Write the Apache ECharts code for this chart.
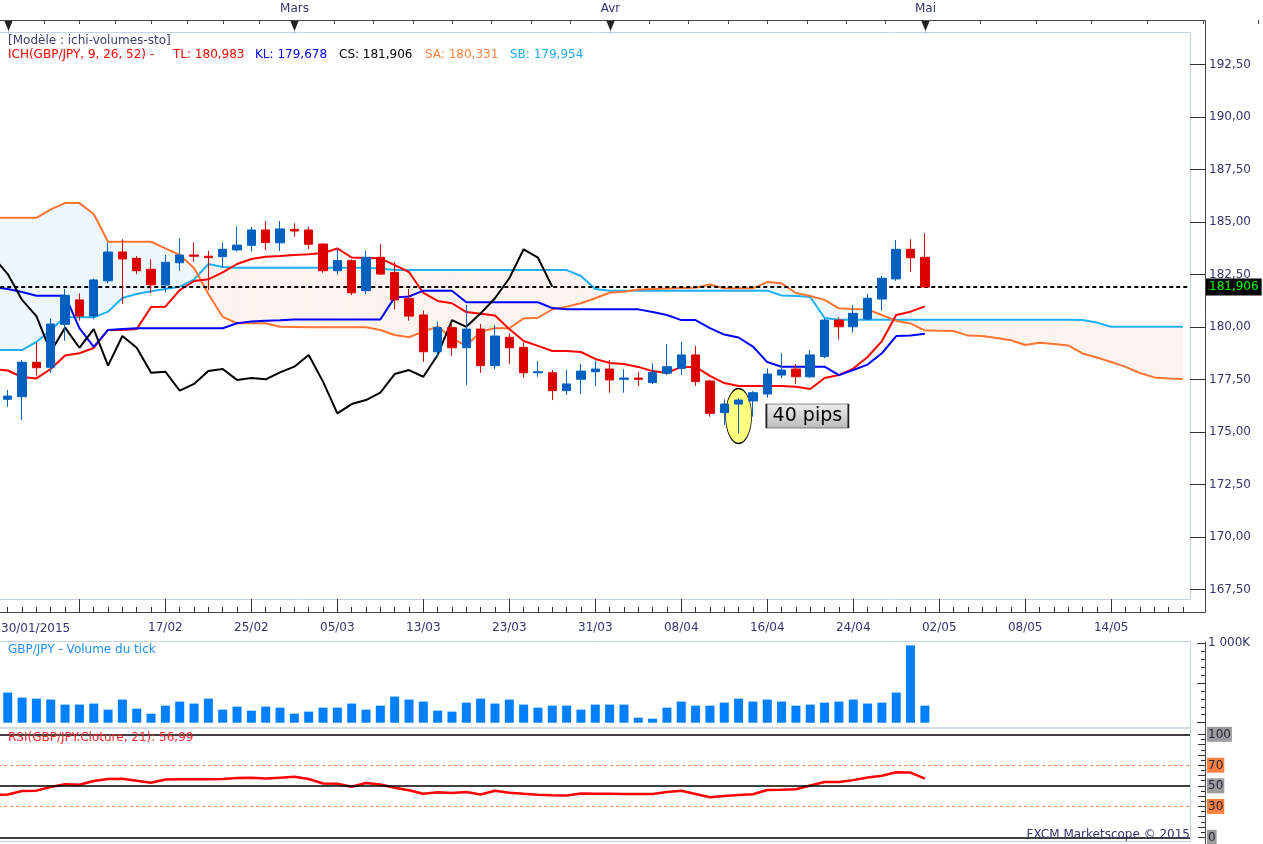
<!DOCTYPE html>
<html>
<head>
<meta charset="utf-8">
<title>GBP/JPY Ichimoku</title>
<script src="https://cdn.jsdelivr.net/npm/echarts/dist/echarts.min.js"></script>
<style>
html,body{margin:0;padding:0;background:#ffffff;overflow:hidden;}
#chart{width:1263px;height:844px;}
</style>
</head>
<body>
<div id="chart"></div>
<script>
// ---------- DATA ----------
const categories = ['30/01',
 '02/02','03/02','04/02','05/02','06/02','09/02','10/02','11/02','12/02','13/02',
 '16/02','17/02','18/02','19/02','20/02','23/02','24/02','25/02','26/02','27/02',
 '02/03','03/03','04/03','05/03','06/03','09/03','10/03','11/03','12/03','13/03',
 '16/03','17/03','18/03','19/03','20/03','23/03','24/03','25/03','26/03','27/03',
 '30/03','31/03','01/04','02/04','03/04','06/04','07/04','08/04','09/04','10/04',
 '13/04','14/04','15/04','16/04','17/04','20/04','21/04','22/04','23/04','24/04',
 '27/04','28/04','29/04','30/04','01/05',
 '02/05','03/05','04/05','05/05','06/05','07/05','08/05','09/05','10/05','11/05',
 '12/05','13/05','14/05','15/05','16/05','17/05','18/05','19/05'];

const opens = [176.90,176.56,176.68,178.32,178.08,180.13,181.29,180.52,182.20,183.57,
 183.27,182.75,182.00,183.06,183.43,183.37,183.35,183.67,183.89,184.62,
 184.01,184.65,184.62,183.95,182.68,183.16,181.73,183.32,182.59,181.35,
 180.57,178.82,179.97,179.01,179.90,178.16,179.51,179.03,177.82,177.82,
 176.97,177.51,177.87,178.00,177.51,177.57,177.35,177.80,178.03,178.67,
 177.43,175.92,176.33,176.48,176.81,177.71,178.00,177.63,178.59,180.33,
 180.01,180.38,181.33,182.29,183.70,183.32];
const closes = [176.60,176.71,178.32,178.06,180.14,181.51,180.52,182.24,183.57,183.24,
 182.68,182.01,183.08,183.43,183.37,183.30,183.70,183.90,184.62,184.02,
 184.67,184.57,183.94,182.68,183.16,181.63,183.32,182.52,181.29,180.52,
 178.82,179.97,179.01,179.90,178.16,179.57,179.01,177.82,177.87,176.97,
 177.29,177.90,178.00,177.48,177.57,177.51,177.84,178.11,178.67,177.40,
 175.89,176.33,176.52,176.87,177.76,177.95,177.63,178.67,180.33,180.01,
 180.65,181.37,182.32,183.70,183.30,181.906];
const lows = [176.30,176.20,175.57,177.68,177.82,179.35,180.30,180.37,182.08,181.10,
 182.52,181.60,181.65,182.68,183.11,181.76,182.84,183.60,183.59,183.67,
 183.62,184.30,183.71,182.59,182.48,181.52,181.57,182.48,180.84,180.30,
 178.35,178.59,178.62,177.24,177.82,178.00,178.24,177.59,177.63,176.52,
 176.76,176.80,177.19,176.87,176.87,177.19,177.29,177.71,177.71,177.20,
 175.73,175.33,174.94,175.73,176.63,177.56,177.29,177.56,178.51,179.41,
 179.73,180.33,180.78,182.20,182.63,181.89];
const highs = [177.20,177.00,178.43,179.27,180.41,181.81,181.60,182.30,184.01,184.18,
 183.38,183.22,183.43,184.22,184.03,183.63,184.03,184.78,184.78,185.05,
 185.05,184.94,184.75,183.99,183.70,183.22,183.62,183.95,183.11,181.80,
 180.78,180.25,180.14,181.05,180.14,180.10,179.70,179.25,178.38,177.95,
 177.95,178.24,178.40,178.43,177.99,177.87,178.27,179.19,179.30,179.10,
 177.48,176.56,176.60,176.95,178.03,178.75,178.24,178.90,180.41,180.46,
 181.05,181.57,182.43,184.14,184.18,184.46];

const tenkan = [178.00,177.93,177.62,177.55,178.00,178.64,178.75,179.00,179.86,179.86,
 179.90,180.95,180.97,181.76,182.19,182.27,182.60,183.00,183.24,183.35,
 183.38,183.43,183.46,183.52,183.74,183.31,183.29,183.27,182.95,182.62,
 181.62,181.24,181.13,180.71,180.63,180.55,179.90,179.33,179.10,178.86,
 178.86,178.81,178.48,178.29,178.24,178.10,177.90,177.81,178.10,178.10,
 177.67,177.33,177.19,177.19,177.19,177.19,177.16,177.05,177.57,177.71,
 178.02,178.57,179.33,180.57,180.73,180.98];
const kijun = [181.90,181.81,181.67,181.49,181.49,181.49,179.95,179.05,179.86,179.90,
 179.94,179.94,179.94,179.94,179.94,179.94,179.94,180.18,180.26,180.30,
 180.32,180.36,180.36,180.36,180.36,180.36,180.36,180.36,181.41,181.45,
 181.73,181.73,181.73,181.18,181.18,181.18,181.18,181.18,181.18,180.90,
 180.84,180.84,180.84,180.84,180.84,180.84,180.71,180.57,180.33,180.33,
 179.95,179.64,179.50,179.07,178.33,178.11,178.11,178.11,178.11,177.71,
 177.95,178.21,178.75,179.57,179.59,179.68];
const chikou = [183.32,182.52,181.29,180.52,178.82,179.97,179.01,179.90,178.16,179.57,
 179.01,177.82,177.87,176.97,177.29,177.90,178.00,177.48,177.57,177.51,
 177.84,178.11,178.67,177.40,175.89,176.33,176.52,176.87,177.76,177.95,
 177.63,178.67,180.33,180.01,180.65,181.37,182.32,183.70,183.30,181.91];
const senkouOrange = [185.20,185.20,185.20,185.20,185.60,185.90,185.90,185.38,184.06,184.06,
 184.06,184.06,183.74,183.43,182.81,181.57,180.48,180.18,180.18,180.18,
 180.01,180.00,179.99,179.99,179.99,179.99,179.99,179.86,179.62,179.51,
 179.78,180.02,179.46,179.10,179.78,179.94,179.94,180.41,180.44,180.84,
 180.97,181.13,181.37,181.63,181.68,181.79,181.81,181.83,181.86,181.87,
 182.02,181.84,181.84,181.84,182.14,182.08,181.62,181.48,181.29,180.89,
 180.86,180.84,180.57,180.29,180.17,179.83,179.82,179.81,179.59,179.57,
 179.48,179.37,179.14,179.25,179.19,179.12,178.74,178.55,178.33,178.10,
 177.81,177.60,177.55,177.52];
const senkouBlue = [178.90,178.90,178.90,179.29,179.86,180.46,180.46,180.46,180.73,181.38,
 181.57,181.70,181.81,181.92,182.26,183.00,182.86,182.82,182.82,182.82,
 182.82,182.82,182.82,182.82,182.82,182.82,182.82,182.79,182.71,182.71,
 182.71,182.71,182.71,182.71,182.71,182.71,182.71,182.71,182.71,182.71,
 182.71,182.43,181.81,181.73,181.73,181.73,181.73,181.73,181.73,181.73,
 181.73,181.73,181.73,181.73,181.73,181.50,181.48,181.43,180.43,180.34,
 180.34,180.34,180.34,180.34,180.34,180.34,180.34,180.34,180.34,180.34,
 180.34,180.34,180.34,180.34,180.34,180.34,180.33,180.21,180.01,180.01,
 180.01,180.01,180.01,180.01];

const volumesK = [300,378,315,302,290,227,227,240,164,290,
 176,113,214,265,240,302,164,202,151,202,
 189,113,139,189,189,240,164,214,328,290,
 265,151,139,252,302,240,290,227,189,214,
 214,164,227,227,227,63,50,189,265,214,
 214,252,302,265,290,265,214,227,252,265,
 290,240,252,378,970,214];

const rsi = [41.2,41.6,45.0,45.3,48.8,51.6,51.0,54.6,56.7,56.9,
 55.0,53.0,56.2,56.3,56.3,56.3,56.5,57.6,57.9,57.0,
 57.9,58.8,56.6,52.3,52.1,49.1,52.7,51.2,48.1,45.7,
 42.2,43.8,43.0,43.9,41.5,45.2,43.3,42.2,41.2,40.8,
 40.5,42.6,42.4,42.2,42.0,42.0,42.0,44.0,45.2,42.0,
 38.8,40.1,41.0,41.8,45.9,46.2,46.6,50.3,53.7,53.7,
 55.5,58.0,59.8,63.2,62.8,57.0];

const monthStarts = [1, 21, 43, 65, 96];
const monthLabels = ['', 'Mars', 'Avr', 'Mai'];
const legendTexts = ['ICH(GBP/JPY, 9, 26, 52) -', 'TL: 180,983', 'KL: 179,678', 'CS: 181,906', 'SA: 180,331', 'SB: 179,954'];
const legendColors = ['#ff0000', '#ff0000', '#0000ff', '#000000', '#ff7f3f', '#1faaf2'];
const legendX = [8, 173, 255, 339, 425, 510];
const rsiLevels = [100, 70, 50, 30, 0];
const highlightPoint = [[52, 175.76]];
const pipsBox = [[56.8, 175.76]];

// ---------- BUILD ----------
const FONT = '"DejaVu Sans", Verdana, sans-serif';
const NAVY = '#34346c';
const GL = -13.75, GW = 1203.75;
const N = categories.length;
const lastClose = closes[closes.length - 1];
const fmt = (v, d) => v.toFixed(d).replace('.', ',');

const candleData = opens.map((o, i) => [o, closes[i], lows[i], highs[i]]);
const cloudData = [];
for (let i = 0; i < senkouOrange.length - 1; i++) {
  cloudData.push([i, senkouOrange[i], senkouBlue[i], senkouOrange[i + 1], senkouBlue[i + 1]]);
}
const topTicks = [];
for (let m = 0; m < monthStarts.length - 1; m++) {
  const s = monthStarts[m], e = monthStarts[m + 1];
  for (let k = 1; k < 8; k++) topTicks.push([s + k * (e - s) / 8]);
}
const monthMarks = monthStarts.slice(0, monthLabels.length).map(v => [v]);

const gridBase = {left: GL, width: GW, containLabel: false, outerBoundsMode: 'none'};
const grids = [
  Object.assign({top: 33, height: 567}, gridBase),      // 0 price
  Object.assign({top: 64.5, height: 525}, gridBase),    // 1 price major labels
  Object.assign({top: 599, height: 13}, gridBase),      // 2 date ruler
  Object.assign({top: 643, height: 79.7}, gridBase),    // 3 volume
  Object.assign({top: 734.3, height: 103}, gridBase),   // 4 rsi
  Object.assign({top: 20, height: 13}, gridBase)        // 5 month ruler
];

const hiddenCat = (g) => ({type: 'category', gridIndex: g, data: categories, boundaryGap: true, show: false, axisLine: {onZero: false}});
const hiddenVal = (g) => ({type: 'value', gridIndex: g, min: -0.5, max: N - 0.5, show: false, axisLine: {onZero: false}});

const xAxes = [
  hiddenCat(0),            // 0
  hiddenVal(0),            // 1
  hiddenCat(1),            // 2
  {                        // 3 ruler minor ticks + labels
    type: 'category', gridIndex: 2, data: categories, boundaryGap: true, position: 'bottom',
    axisLine: {show: false, onZero: false},
    axisTick: {show: true, inside: true, length: 5, interval: 0, alignWithLabel: true, lineStyle: {color: '#333', width: 1}},
    axisLabel: {show: true, interval: (i) => i % 6 === 0 && i >= 12, margin: 10, color: NAVY, fontFamily: FONT, fontSize: 12},
    splitLine: {show: false}
  },
  {                        // 4 ruler major ticks
    type: 'category', gridIndex: 2, data: categories, boundaryGap: true, position: 'bottom',
    axisLine: {show: false, onZero: false},
    axisTick: {show: true, inside: true, length: 13, interval: (i) => i % 6 === 0, alignWithLabel: true, lineStyle: {color: '#333', width: 1}},
    axisLabel: {show: false}, splitLine: {show: false}
  },
  hiddenCat(3),            // 5
  hiddenCat(4),            // 6
  hiddenVal(5)             // 7
];

const yAxes = [
  { // 0 price minor ticks
    type: 'value', gridIndex: 0, min: 167, max: 194, interval: 0.25, position: 'right', offset: 15,
    axisLine: {show: false}, axisTick: {show: true, inside: true, length: 6, lineStyle: {color: '#333'}},
    axisLabel: {show: false}, splitLine: {show: false}
  },
  { // 1 price major ticks + labels
    type: 'value', gridIndex: 1, min: 167.5, max: 192.5, interval: 2.5, position: 'right', offset: 15,
    axisLine: {show: false}, axisTick: {show: true, inside: true, length: 15, lineStyle: {color: '#333'}},
    axisLabel: {show: true, margin: 4, color: NAVY, fontFamily: FONT, fontSize: 12, formatter: v => fmt(v, 2)},
    splitLine: {show: false}
  },
  {type: 'value', gridIndex: 2, min: 0, max: 1, show: false},
  { // 3 volume
    type: 'value', gridIndex: 3, min: 0, max: 1000, interval: 500, position: 'right', offset: 15,
    axisLine: {show: false}, axisTick: {show: true, inside: true, length: 8, lineStyle: {color: '#333'}},
    minorTick: {show: true, splitNumber: 5, length: 4, lineStyle: {color: '#333'}},
    axisLabel: {show: true, margin: 3, color: NAVY, fontFamily: FONT, fontSize: 12, formatter: v => v === 1000 ? '1 000K' : ''},
    splitLine: {show: false}, minorSplitLine: {show: false}
  },
  { // 4 rsi
    type: 'value', gridIndex: 4, min: 0, max: 100, interval: 10, position: 'right', offset: 15,
    axisLine: {show: false}, axisTick: {show: true, inside: true, length: 7, lineStyle: {color: '#333'}},
    minorTick: {show: true, splitNumber: 2, length: 4, lineStyle: {color: '#333'}},
    axisLabel: {
      show: true, margin: 2, fontFamily: FONT, fontSize: 12,
      formatter: v => {
        if (rsiLevels.indexOf(v) < 0) return '';
        return (v === 70 || v === 30) ? '{o|' + v + '}' : '{g|' + v + '}';
      },
      rich: {
        g: {backgroundColor: '#9c9c9c', color: '#24243c', padding: [2, 1, 1, 1], fontFamily: FONT, fontSize: 12, lineHeight: 14},
        o: {backgroundColor: '#ff7f3f', color: '#24243c', padding: [2, 1, 1, 1], fontFamily: FONT, fontSize: 12, lineHeight: 14}
      }
    },
    splitLine: {show: false}, minorSplitLine: {show: false}
  },
  {type: 'value', gridIndex: 5, min: 0, max: 1, show: false}
];

const BLUE_FILL = '#eef7fd';
const PINK_FILL = '#fdf3ef';

const series = [
  { // cloud fill
    type: 'custom', xAxisIndex: 1, yAxisIndex: 0, z: 1, clip: true, silent: true,
    data: cloudData,
    encode: {x: 0, y: 1},
    renderItem: function (params, api) {
      const i = api.value(0);
      const a0 = api.value(1), b0 = api.value(2), a1 = api.value(3), b1 = api.value(4);
      const pA0 = api.coord([i, a0]), pB0 = api.coord([i, b0]);
      const pA1 = api.coord([i + 1, a1]), pB1 = api.coord([i + 1, b1]);
      const d0 = a0 - b0, d1 = a1 - b1;
      const col = d => (d >= 0 ? BLUE_FILL : PINK_FILL);
      const poly = (pts, c) => ({type: 'polygon', shape: {points: pts}, style: {fill: c, stroke: c, lineWidth: 0.6}});
      if (d0 * d1 >= 0) {
        return {type: 'group', children: [poly([pA0, pA1, pB1, pB0], col(d0 + d1))]};
      }
      const t = d0 / (d0 - d1);
      const X = [pA0[0] + t * (pA1[0] - pA0[0]), pA0[1] + t * (pA1[1] - pA0[1])];
      return {type: 'group', children: [poly([pA0, X, pB0], col(d0)), poly([X, pA1, pB1], col(d1))]};
    }
  },
  {name: 'SB', type: 'line', xAxisIndex: 0, yAxisIndex: 0, z: 3, data: senkouBlue, symbol: 'none', silent: true,
    lineStyle: {color: '#1fb0f2', width: 2}},
  {name: 'SA', type: 'line', xAxisIndex: 0, yAxisIndex: 0, z: 3, data: senkouOrange, symbol: 'none', silent: true,
    lineStyle: {color: '#ff7433', width: 2}},
  {name: 'TL', type: 'line', xAxisIndex: 0, yAxisIndex: 0, z: 3, data: tenkan, symbol: 'none', silent: true,
    lineStyle: {color: '#ff0000', width: 2}},
  {name: 'KL', type: 'line', xAxisIndex: 0, yAxisIndex: 0, z: 3, data: kijun, symbol: 'none', silent: true,
    lineStyle: {color: '#0000ff', width: 2}},
  {name: 'CS', type: 'line', xAxisIndex: 0, yAxisIndex: 0, z: 3, data: chikou, symbol: 'none', silent: true,
    lineStyle: {color: '#000000', width: 2}},
  { // highlight ellipse
    type: 'scatter', xAxisIndex: 1, yAxisIndex: 0, z: 4, silent: true,
    data: highlightPoint, symbol: 'circle', symbolSize: [26, 55],
    itemStyle: {color: '#ffff80', borderColor: '#000', borderWidth: 1, opacity: 1}
  },
  {
    type: 'candlestick', xAxisIndex: 0, yAxisIndex: 0, z: 5, silent: true,
    data: candleData, barWidth: 9,
    itemStyle: {color: '#0060c0', color0: '#dd0000', borderColor: '#0060c0', borderColor0: '#dd0000', borderWidth: 1},
    markLine: {
      silent: true, symbol: ['none', 'none'], animation: false,
      data: [{yAxis: lastClose}],
      lineStyle: {color: '#000000', width: 2, type: [4, 3]},
      label: {show: true, position: 'end', distance: 16, formatter: () => fmt(lastClose, 3),
        color: '#00ff00', backgroundColor: '#000000', padding: [3, 3, 2, 3], fontFamily: FONT, fontSize: 12},
      emphasis: {disabled: true}
    }
  },
  { // "40 pips" box
    type: 'scatter', xAxisIndex: 1, yAxisIndex: 0, z: 6, silent: true,
    data: pipsBox, symbol: 'rect', symbolSize: [82, 24],
    itemStyle: {
      color: {type: 'linear', x: 0, y: 0, x2: 0, y2: 1, colorStops: [{offset: 0, color: '#ededed'}, {offset: 1, color: '#bcbcbc'}]},
      borderColor: '#222', borderWidth: 1, opacity: 1
    },
    label: {show: true, position: 'inside', formatter: '40 pips', color: '#000', fontFamily: FONT, fontSize: 19}
  },
  {
    type: 'bar', xAxisIndex: 5, yAxisIndex: 3, data: volumesK, barWidth: 9, silent: true,
    itemStyle: {color: '#0080ff'}
  },
  {
    type: 'line', xAxisIndex: 6, yAxisIndex: 4, data: rsi, symbol: 'none', silent: true, z: 4,
    lineStyle: {color: '#ff0000', width: 2.5},
    markLine: {
      silent: true, symbol: ['none', 'none'], animation: false, label: {show: false},
      lineStyle: {color: '#000', width: 1.5, type: 'solid'},
      data: [
        {yAxis: 100}, {yAxis: 50}, {yAxis: 0},
        {yAxis: 70, lineStyle: {color: '#ff7f3f', width: 1, type: [3, 3]}},
        {yAxis: 30, lineStyle: {color: '#ff7f3f', width: 1, type: [3, 3]}}
      ],
      emphasis: {disabled: true}
    }
  },
  { // month ruler minor ticks
    type: 'custom', xAxisIndex: 7, yAxisIndex: 5, clip: false, silent: true, data: topTicks, encode: {x: 0},
    renderItem: function (params, api) {
      const p = api.coord([api.value(0), 1]);
      const x = Math.round(p[0]) + 0.5;
      return {type: 'line', shape: {x1: x, y1: p[1], x2: x, y2: p[1] + 4}, style: {stroke: '#444', lineWidth: 1}};
    }
  },
  { // month markers
    type: 'custom', xAxisIndex: 7, yAxisIndex: 5, clip: false, silent: true, data: monthMarks, encode: {x: 0},
    renderItem: function (params, api) {
      const p = api.coord([api.value(0), 1]);
      const x = Math.round(p[0]) + 0.5;
      return {type: 'group', children: [
        {type: 'line', shape: {x1: x, y1: p[1], x2: x, y2: p[1] + 14}, style: {stroke: '#b8c4d4', lineWidth: 1}},
        {type: 'polygon', shape: {points: [[x - 4.5, p[1]], [x + 4.5, p[1]], [x, p[1] + 11]]}, style: {fill: '#222'}},
        {type: 'text', style: {text: monthLabels[params.dataIndex], x: x, y: p[1] - 11, align: 'center', verticalAlign: 'middle',
          fill: NAVY, font: '12px ' + FONT}}
      ]};
    }
  }
];

const BORDER = '#c6d2e1';
const txt = (s, x, y, color, align) => ({type: 'text', z: 100, silent: true,
  style: {text: s, x: x, y: y, fill: color, font: '12px ' + FONT, align: align || 'left', verticalAlign: 'middle'}});
const graphics = [
  {type: 'rect', z: 0, silent: true, shape: {x: -2, y: 32.5, width: 1192.5, height: 567}, style: {fill: 'none', stroke: BORDER, lineWidth: 1}},
  {type: 'rect', z: 0, silent: true, shape: {x: -2, y: 641.5, width: 1192.5, height: 86.5}, style: {fill: 'none', stroke: BORDER, lineWidth: 1}},
  {type: 'rect', z: 0, silent: true, shape: {x: -2, y: 728, width: 1192.5, height: 113.5}, style: {fill: 'none', stroke: BORDER, lineWidth: 1}},
  {type: 'line', z: 50, silent: true, shape: {x1: 0, y1: 20.5, x2: 1205.5, y2: 20.5}, style: {stroke: '#444', lineWidth: 1}},
  {type: 'line', z: 50, silent: true, shape: {x1: 0, y1: 612.5, x2: 1205.5, y2: 612.5}, style: {stroke: '#444', lineWidth: 1}},
  {type: 'line', z: 50, silent: true, shape: {x1: 1205.5, y1: 20.5, x2: 1205.5, y2: 612.5}, style: {stroke: '#444', lineWidth: 1}},
  {type: 'line', z: 50, silent: true, shape: {x1: 1205.5, y1: 641.5, x2: 1205.5, y2: 844}, style: {stroke: '#444', lineWidth: 1}},
  txt('[Modèle : ichi-volumes-sto]', 8, 41, '#3d3d70'),
  txt('GBP/JPY - Volume du tick', 8, 650, '#1f8fff'),
  txt('RSI(GBP/JPY.Cloture, 21): 56,99', 8, 738, '#ff2a2a'),
  txt('FXCM Marketscope \u00a9 2015', 1190, 835, NAVY, 'right'),
  txt('30/01/2015', 1, 629, NAVY)
];
legendTexts.forEach((s, i) => graphics.push(txt(s, legendX[i], 55, legendColors[i])));

const chart = echarts.init(document.getElementById('chart'), null, {renderer: 'canvas'});
chart.setOption({
  animation: false,
  backgroundColor: '#ffffff',
  textStyle: {fontFamily: FONT},
  grid: grids,
  xAxis: xAxes,
  yAxis: yAxes,
  series: series,
  graphic: graphics
});
</script>
</body>
</html>
